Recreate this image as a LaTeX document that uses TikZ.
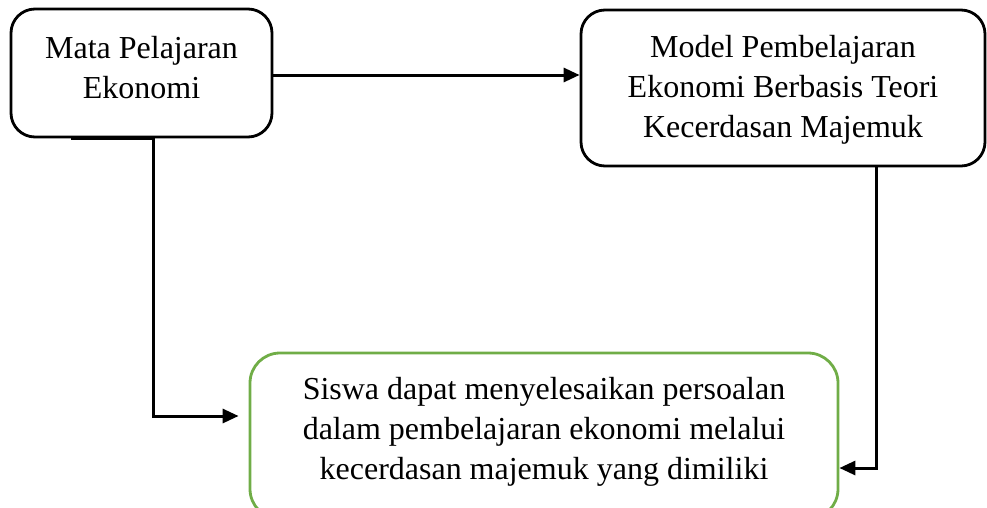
\documentclass[tikz,border=0pt]{standalone}
\usepackage{fontspec}
\setmainfont{Liberation Serif}
\usetikzlibrary{arrows.meta,calc}
\definecolor{boxgreen}{RGB}{112,173,71}
\tikzset{
  boxa/.style={draw=black, line width=2.8pt, rounded corners=24pt, inner sep=0pt},
  boxg/.style={draw=boxgreen, line width=2.8pt, rounded corners=30pt, inner sep=0pt},
  txt/.style={align=center, inner sep=0pt, font=\fontsize{32}{40}\selectfont},
  conn/.style={line width=3pt, -{Triangle[length=16pt,width=14pt]}}
}
\begin{document}
\begin{tikzpicture}[x=1pt,y=-1pt]
\useasboundingbox (0,0) rectangle (987,507);
% boxes
\node[boxa, minimum width=261pt, minimum height=128pt] (A) at (141.5,73) {};
\node[boxa, minimum width=404pt, minimum height=156pt] (B) at (783,88) {};
\node[boxg, minimum width=588pt, minimum height=166pt] (C) at (544,436) {};
% texts
\node[txt] (tA) at (141.5,67.5) {Mata Pelajaran\\Ekonomi};
\node[txt] (tB) at (783,90) {Model Pembelajaran\\Ekonomi Berbasis Teori\\Kecerdasan Majemuk};
\node[txt] (tC) at (544,431.5) {Siswa dapat menyelesaikan persoalan\\dalam pembelajaran ekonomi melalui\\kecerdasan majemuk yang dimiliki};
% connector helpers
\coordinate (a0) at ($(A.east)+(0,2)$);
\coordinate (a1) at ($(A.south west)+(61,0)$);
\coordinate (a2) at ($(A.south west)+(144,0)$);
\coordinate (b1) at ($(B.south west)+(297,0)$);
% connectors
\draw[conn] (a0) -- (a0 -| B.west);
\draw[conn, shorten >=10pt] (a1) -- (a2) |- (C.west |- 0,416);
\draw[conn] (b1) |- (C.east |- 0,468);
\end{tikzpicture}
\end{document}
